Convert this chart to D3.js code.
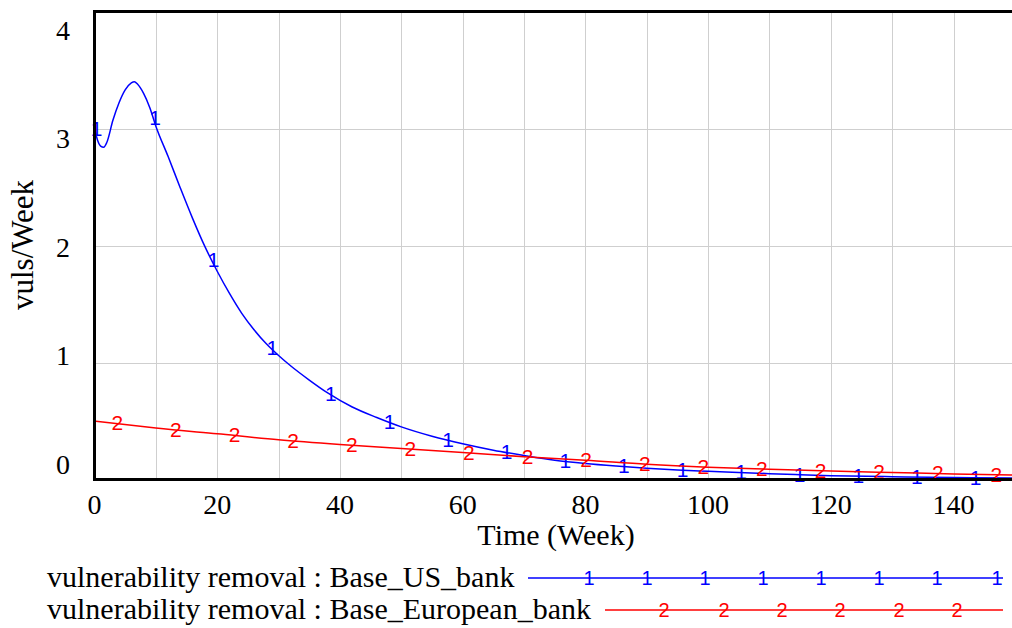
<!DOCTYPE html>
<html>
<head>
<meta charset="utf-8">
<script src="https://cdn.jsdelivr.net/npm/d3@7"></script>
<style>
  html, body { margin: 0; padding: 0; background: #fff; }
  svg { display: block; }
</style>
</head>
<body>
<svg id="chart" width="1012" height="628"></svg>
<script>
// Simulation output: vulnerability removal (vuls/Week) over time (Week)
const usTime = [0, 0.5, 1, 1.5, 2, 3, 4, 5, 6, 6.5, 7, 8, 9, 10, 12, 14, 16, 18, 20, 22, 24, 26, 28, 30, 32, 35, 38, 42, 46, 50, 55, 60, 65, 70, 75, 80, 85, 90, 95, 100, 105, 110, 115, 120, 130, 140, 150];
const usValues = [3.0, 2.9, 2.85, 2.84, 2.88, 3.07, 3.22, 3.33, 3.39, 3.40, 3.38, 3.30, 3.18, 3.02, 2.76, 2.49, 2.23, 1.99, 1.78, 1.59, 1.42, 1.28, 1.16, 1.06, 0.97, 0.85, 0.74, 0.62, 0.53, 0.45, 0.37, 0.305, 0.25, 0.205, 0.165, 0.137, 0.115, 0.096, 0.081, 0.07, 0.06, 0.05, 0.041, 0.033, 0.024, 0.017, 0.012];

const euTime = [0, 10, 20, 30, 40, 50, 60, 70, 80, 90, 100, 110, 120, 130, 140, 150];
const euValues = [0.50, 0.44, 0.39, 0.34, 0.30, 0.265, 0.23, 0.195, 0.165, 0.13, 0.105, 0.088, 0.072, 0.06, 0.048, 0.038];

const xTicks = [0, 20, 40, 60, 80, 100, 120, 140];
const yTicks = [0, 1, 2, 3, 4];

const seriesNames = ["vulnerability removal : Base_US_bank", "vulnerability removal : Base_European_bank"];
const seriesColors = ["#0000ff", "#ff0000"];
const seriesMarks = ["1", "2"];

const svg = d3.select("#chart");
const serif = "'Liberation Serif', 'Times New Roman', serif";
const sans = "'Liberation Sans', Arial, sans-serif";

const plotLeft = 94.5, plotTop = 11.5, plotBottom = 479.5;
const x = d3.scaleLinear().domain([0, 150]).range([plotLeft, plotLeft + 150 * 6.136]);
const y = d3.scaleLinear().domain([0, 4]).range([plotBottom, plotTop]);
// tick labels are spread slightly inside the frame
const yLabel = d3.scaleLinear().domain([0, 4]).range([plotBottom - 15, plotTop + 19]);

// grid
const grid = svg.append("g").attr("stroke", "#cfcfcf").attr("stroke-width", 1);
grid.selectAll("line.v").data(d3.range(10, 151, 10)).join("line")
  .attr("x1", d => Math.round(x(d)) + 0.5).attr("x2", d => Math.round(x(d)) + 0.5)
  .attr("y1", plotTop).attr("y2", plotBottom);
grid.selectAll("line.h").data([1, 2, 3]).join("line")
  .attr("x1", plotLeft).attr("x2", 1012)
  .attr("y1", d => Math.round(y(d)) + 0.5).attr("y2", d => Math.round(y(d)) + 0.5);

// series
const lineGen = d3.line().x(d => x(d[0])).y(d => y(d[1])).curve(d3.curveMonotoneX);
const series = [
  { t: usTime, v: usValues, markStart: 0 },
  { t: euTime, v: euValues, markStart: 3.4 }
];
const markStep = 9.55;

const plot = svg.append("g");
series.forEach((s, i) => {
  const pts = s.t.map((t, k) => [t, s.v[k]]);
  plot.append("path").datum(pts)
    .attr("fill", "none").attr("stroke", seriesColors[i]).attr("stroke-width", 1.5)
    .attr("d", lineGen);
  const interp = t => {
    const j = Math.max(1, Math.min(d3.bisectRight(s.t, t), s.t.length - 1));
    const t0 = s.t[j - 1], t1 = s.t[j];
    return s.v[j - 1] + (s.v[j] - s.v[j - 1]) * (t - t0) / (t1 - t0);
  };
  const marks = d3.range(s.markStart, 149, markStep);
  plot.selectAll(null).data(marks).join("text")
    .attr("x", d => x(d) + 2).attr("y", d => y(interp(d)) + 7)
    .attr("text-anchor", "middle")
    .attr("font-family", sans).attr("font-size", 21)
    .attr("fill", seriesColors[i]).text(seriesMarks[i]);
});

// frame
svg.append("line").attr("x1", plotLeft).attr("x2", 1012).attr("y1", plotTop).attr("y2", plotTop)
  .attr("stroke", "#000").attr("stroke-width", 3);
svg.append("line").attr("x1", plotLeft).attr("x2", 1012).attr("y1", plotBottom).attr("y2", plotBottom)
  .attr("stroke", "#000").attr("stroke-width", 3);
svg.append("line").attr("x1", plotLeft).attr("x2", plotLeft).attr("y1", plotTop - 1.5).attr("y2", plotBottom + 1.5)
  .attr("stroke", "#000").attr("stroke-width", 3);

// tick labels
svg.selectAll("text.xt").data(xTicks).join("text")
  .attr("x", d => x(d)).attr("y", 514)
  .attr("text-anchor", "middle").attr("font-family", serif).attr("font-size", 28)
  .text(d => d);
svg.selectAll("text.yt").data(yTicks).join("text")
  .attr("x", 70).attr("y", d => yLabel(d) + 9)
  .attr("text-anchor", "end").attr("font-family", serif).attr("font-size", 28)
  .text(d => d);

// axis titles
svg.append("text").attr("x", 556).attr("y", 545)
  .attr("text-anchor", "middle").attr("font-family", serif).attr("font-size", 30)
  .text("Time (Week)");
svg.append("text").attr("transform", "translate(33,245) rotate(-90)")
  .attr("text-anchor", "middle").attr("font-family", serif).attr("font-size", 31)
  .text("vuls/Week");

// legend
const legend = [
  { y: 578, x0: 528, marks: [589, 647, 705, 763, 821, 879, 937, 997] },
  { y: 610, x0: 605, marks: [664, 724, 782, 840, 899, 957] }
];
legend.forEach((L, i) => {
  svg.append("text").attr("x", 47).attr("y", L.y + 9)
    .attr("font-family", serif).attr("font-size", 30).text(seriesNames[i]);
  svg.append("line").attr("x1", L.x0).attr("x2", 1003).attr("y1", L.y).attr("y2", L.y)
    .attr("stroke", seriesColors[i]).attr("stroke-width", 1.5);
  svg.selectAll(null).data(L.marks).join("text")
    .attr("x", d => d).attr("y", L.y + 7)
    .attr("text-anchor", "middle").attr("font-family", sans).attr("font-size", 20)
    .attr("fill", seriesColors[i]).text(seriesMarks[i]);
});
</script>
</body>
</html>
